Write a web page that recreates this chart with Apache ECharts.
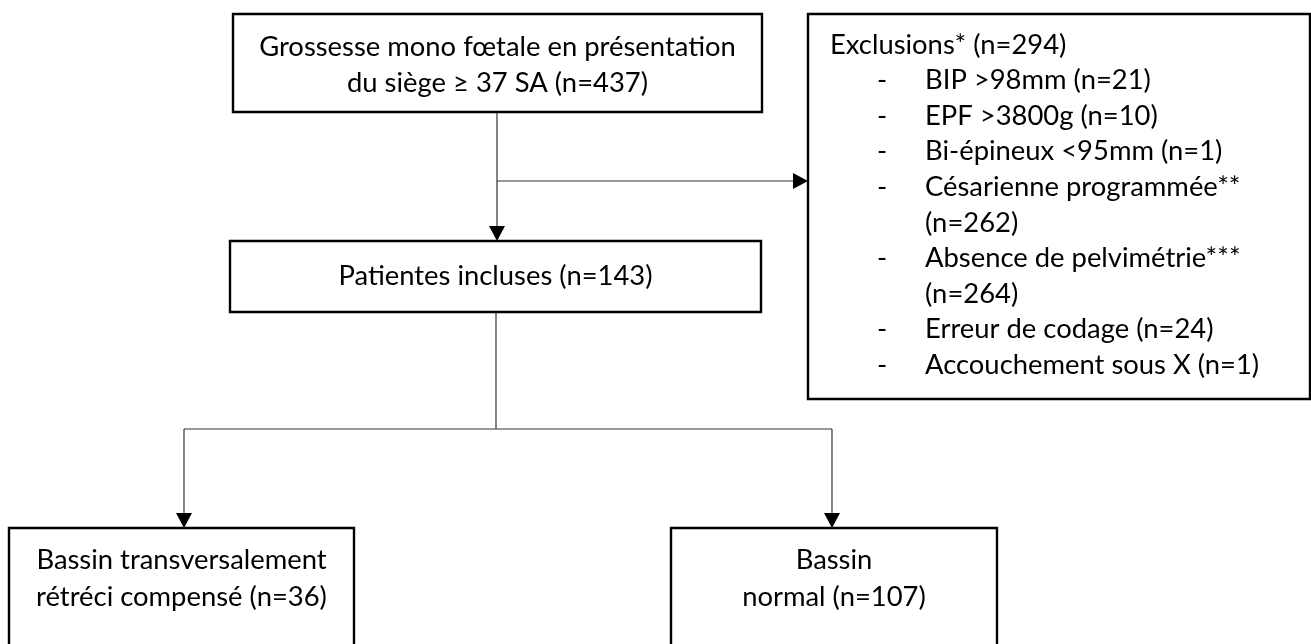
<!DOCTYPE html>
<html><head><meta charset="utf-8">
<script src="https://cdn.jsdelivr.net/npm/echarts@6/dist/echarts.min.js"></script>
<style>html,body{margin:0;padding:0;background:#fff}#c{width:1311px;height:644px}</style>
</head><body><div id="c"></div>
<script>
// ---- data ----
const stageLines = [
  ['Grossesse mono fœtale en présentation', 'du siège ≥ 37 SA'],
  ['Patientes incluses'],
  ['Bassin transversalement', 'rétréci compensé'],
  ['Bassin', 'normal']
];
const stageCounts = [437, 143, 36, 107];
const exclusionTitle = 'Exclusions*';
const exclusionTotal = 294;
const exclusionReasons = ['BIP >98mm', 'EPF >3800g', 'Bi-épineux <95mm', 'Césarienne programmée**', 'Absence de pelvimétrie***', 'Erreur de codage', 'Accouchement sous X'];
const exclusionCounts = [21, 10, 1, 262, 264, 24, 1];

// ---- layout (data-space = pixel space of the grid) ----
const FONT_FAMILY = 'Lato, "Open Sans", sans-serif';
const FS = 27.4;
const stageBoxes = [
  {r: [233, 14, 762, 112], cx: 497.5, ys: [47, 83]},
  {r: [230, 241, 761, 312], cx: 495.5, ys: [276]},
  {r: [9, 528, 354, 690], cx: 181.5, ys: [560, 597]},
  {r: [671, 528, 997, 690], cx: 834, ys: [560, 597]}
];
const exclBox = {r: [808, 14, 1310, 399], titleX: 830, dashX: 882, itemX: 925, y0: 45, lh: 35.55, wrap: [false, false, false, true, true, false, false]};
const connectors = [
  {pts: [[497, 112], [497, 241]], arrow: true},
  {pts: [[497, 181], [808, 181]], arrow: true},
  {pts: [[496, 312], [496, 429]], arrow: false},
  {pts: [[184, 429], [832, 429]], arrow: false},
  {pts: [[184, 429], [184, 528]], arrow: true},
  {pts: [[832, 429], [832, 528]], arrow: true}
];

function txt(p, s, align) {
  return {type: 'text', silent: true, style: {
    x: p[0], y: p[1], text: s, fill: '#000', font: FS + 'px ' + FONT_FAMILY,
    align: align, verticalAlign: 'middle', textAlign: align, textVerticalAlign: 'middle'}};
}

function renderItem(params, api) {
  const P = (x, y) => api.coord([x, y]);
  const children = [];
  function box(r, lw) {
    const a = P(r[0], r[1]), b = P(r[2], r[3]);
    children.push({type: 'rect', shape: {x: a[0], y: a[1], width: b[0] - a[0], height: b[1] - a[1]},
      style: {fill: '#fff', stroke: '#000', lineWidth: lw}});
  }
  // connectors
  connectors.forEach(c => {
    const pts = c.pts.map(q => P(q[0], q[1]));
    const end = pts[pts.length - 1].slice();
    const st = pts[0];
    const dx = end[0] - st[0], dy = end[1] - st[1];
    const len = Math.hypot(dx, dy), ux = dx / len, uy = dy / len;
    const AL = 15, AW = 8;
    const lineEnd = c.arrow ? [end[0] - ux * AL * 0.5, end[1] - uy * AL * 0.5] : end;
    children.push({type: 'polyline', shape: {points: [st, lineEnd]}, style: {stroke: '#333', lineWidth: 1.2, fill: null}});
    if (c.arrow) {
      const bx = end[0] - ux * AL, by = end[1] - uy * AL;
      children.push({type: 'polygon', shape: {points: [end, [bx - uy * AW, by + ux * AW], [bx + uy * AW, by - ux * AW]]},
        style: {fill: '#000', stroke: null}});
    }
  });
  // stage boxes
  stageBoxes.forEach((b, i) => {
    box(b.r, 2.4);
    const lines = stageLines[i].slice();
    lines[lines.length - 1] += ' (n=' + stageCounts[i] + ')';
    lines.forEach((s, k) => children.push(txt(P(b.cx, b.ys[k]), s, 'center')));
  });
  // exclusion box
  box(exclBox.r, 2.4);
  children.push(txt(P(exclBox.titleX, exclBox.y0), exclusionTitle + ' (n=' + exclusionTotal + ')', 'left'));
  let row = 1;
  exclusionReasons.forEach((s, i) => {
    const y = exclBox.y0 + row * exclBox.lh;
    children.push(txt(P(exclBox.dashX, y), '-', 'center'));
    const cnt = '(n=' + exclusionCounts[i] + ')';
    if (exclBox.wrap[i]) {
      children.push(txt(P(exclBox.itemX, y), s, 'left'));
      row++;
      children.push(txt(P(exclBox.itemX, exclBox.y0 + row * exclBox.lh), cnt, 'left'));
    } else {
      children.push(txt(P(exclBox.itemX, y), s + ' ' + cnt, 'left'));
    }
    row++;
  });
  return {type: 'group', children: children};
}

const chart = echarts.init(document.getElementById('c'), null, {renderer: 'canvas'});
chart.setOption({
  animation: false,
  backgroundColor: '#fff',
  grid: {left: 0, right: 0, top: 0, bottom: 0},
  xAxis: {type: 'value', min: 0, max: 1311, show: false},
  yAxis: {type: 'value', min: 0, max: 644, inverse: true, show: false},
  series: [{type: 'custom', coordinateSystem: 'cartesian2d', clip: false, data: [[0, 0]], renderItem: renderItem}]
});
</script></body></html>
